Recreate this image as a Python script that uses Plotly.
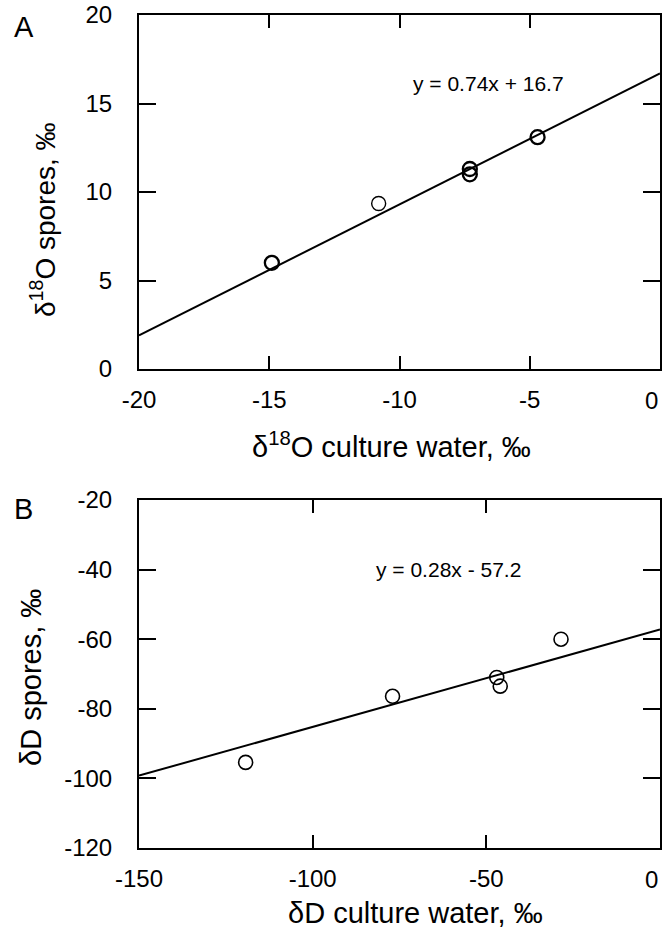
import plotly.graph_objects as go

# ---------------- Data ----------------
# Panel A: delta18O
a_x = [-14.9, -10.8, -7.3, -7.3, -4.7]
a_y = [6.0, 9.35, 11.3, 11.0, 13.1]
a_slope, a_intercept = 0.74, 16.7
a_xrange = [-20, 0]
a_yrange = [0, 20]
a_xticks = [-20, -15, -10, -5, 0]
a_xticklabels = ["-20", "-15", "-10", "-5", "0"]
a_yticks = [0, 5, 10, 15, 20]
a_yticklabels = ["0", "5", "10", "15", "20"]
a_eq = "y = 0.74x + 16.7"

# Panel B: deltaD
b_x = [-119.3, -77.0, -47.0, -46.0, -28.5]
b_y = [-95.4, -76.4, -71.0, -73.5, -60.0]
b_slope, b_intercept = 0.28, -57.2
b_xrange = [-150, 0]
b_yrange = [-120, -20]
b_xticks = [-150, -100, -50, 0]
b_xticklabels = ["-150", "-100", "-50", "0"]
b_yticks = [-120, -100, -80, -60, -40, -20]
b_yticklabels = ["-120", "-100", "-80", "-60", "-40", "-20"]
b_eq = "y = 0.28x - 57.2"

FONT = "Liberation Sans, Arial, sans-serif"

fig = go.Figure()

# Panel A
fig.add_trace(go.Scatter(
    x=a_xrange, y=[a_slope * v + a_intercept for v in a_xrange],
    mode="lines", line=dict(color="black", width=2),
    xaxis="x", yaxis="y", showlegend=False, hoverinfo="skip"))
fig.add_trace(go.Scatter(
    x=a_x, y=a_y, mode="markers",
    marker=dict(symbol="circle-open", size=14, color="black",
                line=dict(width=[2.3, 1.4, 2.3, 2.3, 2.3], color="black")),
    xaxis="x", yaxis="y", showlegend=False))

# Panel B
fig.add_trace(go.Scatter(
    x=b_xrange, y=[b_slope * v + b_intercept for v in b_xrange],
    mode="lines", line=dict(color="black", width=2),
    xaxis="x2", yaxis="y2", showlegend=False, hoverinfo="skip"))
fig.add_trace(go.Scatter(
    x=b_x, y=b_y, mode="markers",
    marker=dict(symbol="circle-open", size=14, color="black",
                line=dict(width=1.6, color="black")),
    xaxis="x2", yaxis="y2", showlegend=False))

tickfont = dict(family=FONT, size=24, color="black")
axis_common = dict(
    showline=True, linecolor="black", linewidth=2, mirror="allticks",
    ticks="inside", tickcolor="black", tickwidth=2,
    showgrid=False, zeroline=False, automargin=False,
    ticklabeloverflow="allow", tickfont=tickfont,
)

fig.update_layout(
    width=662, height=940,
    margin=dict(l=139, r=2, t=15, b=92),
    paper_bgcolor="white", plot_bgcolor="white",
    font=dict(family=FONT, color="black"),
    xaxis=dict(domain=[0, 1], anchor="y", range=a_xrange,
               tickmode="array", tickvals=a_xticks,
               ticktext=a_xticklabels[:-1] + [""],
               ticklen=13, ticklabelstandoff=8, **axis_common),
    yaxis=dict(domain=[0.575, 1], anchor="x", range=a_yrange,
               tickmode="array", tickvals=a_yticks, ticktext=a_yticklabels,
               ticklen=17, ticklabelstandoff=20, **axis_common),
    xaxis2=dict(domain=[0, 1], anchor="y2", range=b_xrange,
                tickmode="array", tickvals=b_xticks,
                ticktext=b_xticklabels[:-1] + [""],
                ticklen=13, ticklabelstandoff=8, **axis_common),
    yaxis2=dict(domain=[0, 0.4178], anchor="x2", range=b_yrange,
                tickmode="array", tickvals=b_yticks, ticktext=b_yticklabels,
                ticklen=17, ticklabelstandoff=20, **axis_common),
)

title_font = dict(family=FONT, size=29, color="black")
ann = [
    # right-most x tick labels sit flush against the right border, as in the original
    dict(x=a_xticks[-1], y=0.5378, xref="x", yref="paper", text=a_xticklabels[-1],
         showarrow=False, xanchor="right", yanchor="middle", font=tickfont),
    dict(x=b_xticks[-1], y=-0.0384, xref="x2", yref="paper", text=b_xticklabels[-1],
         showarrow=False, xanchor="right", yanchor="middle", font=tickfont),
    dict(x=-6.6, y=16.15, xref="x", yref="y", text=a_eq, showarrow=False,
         font=dict(family=FONT, size=21, color="black")),
    dict(x=-60.8, y=-40, xref="x2", yref="y2", text=b_eq, showarrow=False,
         font=dict(family=FONT, size=21, color="black")),
    dict(x=-0.2207, y=0.985, xref="paper", yref="paper", text="A", showarrow=False,
         xanchor="center", yanchor="middle", font=title_font),
    dict(x=-0.2226, y=0.407, xref="paper", yref="paper", text="B", showarrow=False,
         xanchor="center", yanchor="middle", font=title_font),
    dict(x=0.4856, y=0.4838, xref="paper", yref="paper",
         text="δ<sup>18</sup>O culture water, ‰", showarrow=False,
         xanchor="center", yanchor="middle", font=title_font),
    dict(x=0.5298, y=-0.0780, xref="paper", yref="paper",
         text="δD culture water, ‰", showarrow=False,
         xanchor="center", yanchor="middle", font=title_font),
    dict(x=-0.1843, y=0.7551, xref="paper", yref="paper",
         text="δ<sup>18</sup>O spores, ‰", showarrow=False, textangle=-90,
         xanchor="center", yanchor="middle", font=dict(family=FONT, size=28, color="black")),
    dict(x=-0.2073, y=0.2053, xref="paper", yref="paper",
         text="δD spores, ‰", showarrow=False, textangle=-90,
         xanchor="center", yanchor="middle", font=title_font),
]
fig.update_layout(annotations=ann)

fig.write_html(
    "out.html",
    config={"displayModeBar": False},
    post_script="document.body.style.margin='0';document.body.style.overflow='hidden';",
)
